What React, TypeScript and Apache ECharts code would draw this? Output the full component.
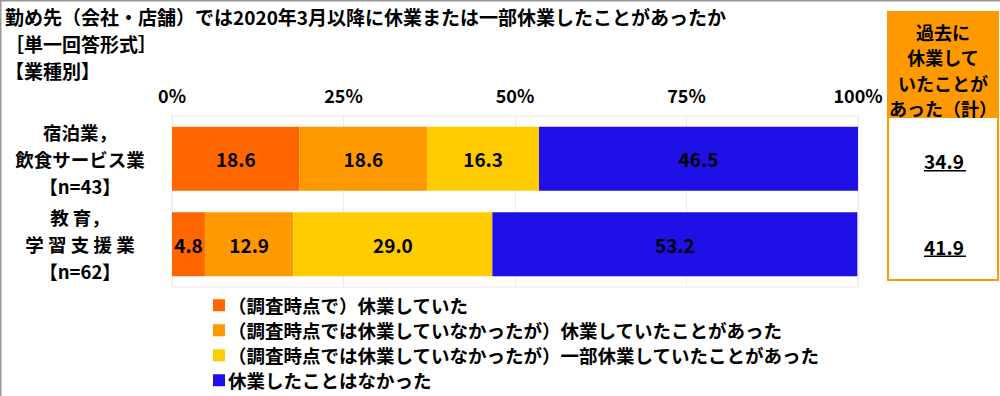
import React, { useEffect, useRef } from "react";
import * as echarts from "echarts";

const categories = ["宿泊業，\n飲食サービス業\n【n=43】", "教 育，\n学 習 支 援 業\n【n=62】"];
const seriesNames = [
  "（調査時点で）休業していた",
  "（調査時点では休業していなかったが）休業していたことがあった",
  "（調査時点では休業していなかったが）一部休業していたことがあった",
  "休業したことはなかった",
];
const s1 = [18.6, 4.8];
const s2 = [18.6, 12.9];
const s3 = [16.3, 29.0];
const s4 = [46.5, 53.2];
const totals = [34.9, 41.9];
const colors = ["#FF6600", "#FF9900", "#FFCC00", "#1E10E6"];
const titleLines = [
  "勤め先（会社・店舗）では2020年3月以降に休業または一部休業したことがあったか",
  "［単一回答形式］",
  "【業種別】",
];
const boxHeader = "過去に\n休業して\nいたことが\nあった（計）";

const FONT = "'Noto Sans CJK JP', 'Noto Sans', sans-serif";

export default function App() {
  const ref = useRef<HTMLDivElement>(null);
  useEffect(() => {
    document.body.style.margin = "0";
    const chart = echarts.init(ref.current!, null, { renderer: "svg" });
    const data = [s1, s2, s3, s4];
    const gridTop = 116;
    const gridH = 171;
    const band = gridH / categories.length;
    const graphics: any[] = [
      { type: "line", shape: { x1: 0.5, y1: 0, x2: 0.5, y2: 396 }, style: { stroke: "#999", lineWidth: 2 } },
      { type: "line", shape: { x1: 0, y1: 0.5, x2: 1000, y2: 0.5 }, style: { stroke: "#999", lineWidth: 2 } },
      { type: "text", left: 5, top: 7, style: { text: titleLines[0], font: `bold 19px ${FONT}`, fill: "#000" } },
      { type: "text", left: 5, top: 34, style: { text: titleLines[1], font: `bold 19px ${FONT}`, fill: "#000" } },
      { type: "text", left: 5, top: 61, style: { text: titleLines[2], font: `bold 19px ${FONT}`, fill: "#000" } },
      { type: "rect", shape: { x: 888, y: 12, width: 110, height: 268 }, style: { fill: "#fff", stroke: "#FF9900", lineWidth: 2 } },
      { type: "rect", shape: { x: 888, y: 12, width: 110, height: 106 }, style: { fill: "#FF9900" } },
      {
        type: "text", x: 943, y: 19,
        style: { text: boxHeader, font: `bold 18px ${FONT}`, fill: "#000", align: "center", verticalAlign: "top", lineHeight: 25.5 },
      },
    ];
    totals.forEach((v, i) => {
      const cy = gridTop + band * (i + 0.5) + 2;
      graphics.push({
        type: "text", x: 944, y: cy,
        style: { text: v.toFixed(1), font: `bold 19px ${FONT}`, fill: "#000", align: "center", verticalAlign: "middle" },
      });
      graphics.push({ type: "line", shape: { x1: 924, y1: cy + 10, x2: 966, y2: cy + 10 }, style: { stroke: "#000", lineWidth: 1.5 } });
    });
    chart.setOption({
      animation: false,
      textStyle: { fontFamily: FONT },
      grid: { left: 172, right: 142, top: gridTop, height: gridH, show: true, borderColor: "#e8e8e8", borderWidth: 1 },
      xAxis: {
        type: "value", position: "top", min: 0, max: 100, interval: 25,
        axisLabel: { formatter: "{value}%", color: "#000", fontWeight: "bold", fontSize: 18, margin: 12 },
        axisLine: { show: false }, axisTick: { show: false },
        splitLine: { show: true, lineStyle: { color: "#ececec" } },
      },
      yAxis: {
        type: "category", inverse: true, data: categories,
        axisLine: { show: false }, axisTick: { show: false },
        axisLabel: { color: "#000", fontWeight: "bold", fontSize: 18.5, lineHeight: 27, align: "center", margin: 92 },
      },
      legend: {
        orient: "vertical", left: 208, top: 291, itemWidth: 12, itemHeight: 12, itemGap: 6.5, icon: "rect",
        height: 110,
        textStyle: { color: "#000", fontWeight: "bold", fontSize: 18.5, lineHeight: 18, padding: [0, 0, 0, -2] },
        data: seriesNames,
      },
      series: data.map((d, i) => ({
        name: seriesNames[i], type: "bar", stack: "total", data: d, barWidth: 64,
        itemStyle: { color: colors[i] },
        label: { show: true, position: "inside", color: "#000", fontWeight: "bold", fontSize: 19, formatter: (p: any) => p.value.toFixed(1) },
      })),
      graphic: graphics,
    });
    return () => chart.dispose();
  }, []);
  return <div ref={ref} style={{ width: 1000, height: 396 }} />;
}
